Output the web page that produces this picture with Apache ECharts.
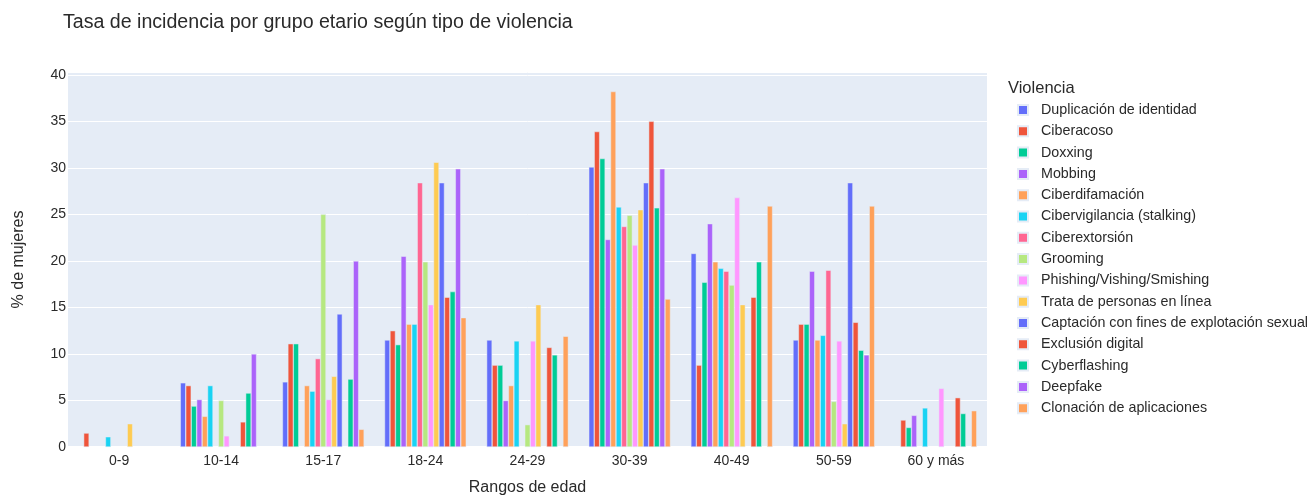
<!DOCTYPE html>
<html>
<head>
<meta charset="utf-8">
<script src="https://cdn.jsdelivr.net/npm/echarts@6/dist/echarts.min.js"></script>
<style>
html,body{margin:0;padding:0;background:#fff;}
#chart{width:1311px;height:496px;}
</style>
</head>
<body>
<div id="chart"></div>
<script>
const categories = ['0-9','10-14','15-17','18-24','24-29','30-39','40-49','50-59','60 y más'];
const seriesNames = ['Duplicación de identidad','Ciberacoso','Doxxing','Mobbing','Ciberdifamación','Cibervigilancia (stalking)','Ciberextorsión','Grooming','Phishing/Vishing/Smishing','Trata de personas en línea','Captación con fines de explotación sexual','Exclusión digital','Cyberflashing','Deepfake','Clonación de aplicaciones'];
const colors = ['#636EFA','#EF553B','#00CC96','#AB63FA','#FFA15A','#19D3F3','#FF6692','#B6E880','#FF97FF','#FECB52','#636EFA','#EF553B','#00CC96','#AB63FA','#FFA15A'];

const duplicacion    = [null, 6.9, 7.0, 11.5, 11.5, 30.1, 20.8, 11.5, null];
const ciberacoso     = [1.5, 6.6, 11.1, 12.5, 8.8, 33.9, 8.8, 13.2, 2.9];
const doxxing        = [null, 4.4, 11.1, 11.0, 8.8, 31.0, 17.7, 13.2, 2.1];
const mobbing        = [null, 5.1, null, 20.5, 5.0, 22.3, 24.0, 18.9, 3.4];
const ciberdifamacion= [null, 3.3, 6.6, 13.2, 6.6, 38.2, 19.9, 11.5, null];
const cibervigilancia= [1.1, 6.6, 6.0, 13.2, 11.4, 25.8, 19.2, 12.0, 4.2];
const ciberextorsion = [null, null, 9.5, 28.4, null, 23.7, 18.9, 19.0, null];
const grooming       = [null, 5.0, 25.0, 19.9, 2.4, 24.9, 17.4, 4.9, null];
const phishing       = [null, 1.2, 5.1, 15.3, 11.4, 21.7, 26.8, 11.4, 6.3];
const trata          = [2.5, null, 7.6, 30.6, 15.3, 25.5, 15.3, 2.5, null];
const captacion      = [null, null, 14.3, 28.4, null, 28.4, null, 28.4, null];
const exclusion      = [null, 2.7, null, 16.1, 10.7, 35.0, 16.1, 13.4, 5.3];
const cyberflashing  = [null, 5.8, 7.3, 16.7, 9.9, 25.7, 19.9, 10.4, 3.6];
const deepfake       = [null, 10.0, 20.0, 29.9, null, 29.9, null, 9.9, null];
const clonacion      = [null, null, 1.9, 13.9, 11.9, 15.9, 25.9, 25.9, 3.9];

const seriesData = [duplicacion, ciberacoso, doxxing, mobbing, ciberdifamacion, cibervigilancia, ciberextorsion, grooming, phishing, trata, captacion, exclusion, cyberflashing, deepfake, clonacion];

const FONT = '"Liberation Sans", Arial, sans-serif';
const TXT = '#2a2a2a';

const chart = echarts.init(document.getElementById('chart'), null, {renderer:'canvas'});
chart.setOption({
  animation: false,
  backgroundColor: '#fff',
  textStyle: {fontFamily: FONT},
  title: [
    {text: 'Tasa de incidencia por grupo etario según tipo de violencia', left: 58, top: 8,
     textStyle: {fontFamily: FONT, fontSize: 19.6, fontWeight: 'normal', color: TXT}},
    {text: 'Violencia', left: 1003, top: 75,
     textStyle: {fontFamily: FONT, fontSize: 16.5, fontWeight: 'normal', color: TXT}}
  ],
  legend: {
    orient: 'vertical', left: 1012, top: 98,
    icon: 'rect', itemWidth: 10, itemHeight: 10, itemGap: 7.3,
    data: seriesNames,
    textStyle: {fontFamily: FONT, fontSize: 14.3, color: TXT, lineHeight: 14, padding: [0,0,0,8]}
  },
  grid: {left: 68, right: 324, top: 72, bottom: 49, show: true, backgroundColor: '#E5ECF6', borderWidth: 0, outerBoundsMode: 'none', containLabel: false},
  xAxis: {
    type: 'category', data: categories,
    name: 'Rangos de edad', nameLocation: 'middle', nameGap: 33,
    nameTextStyle: {fontFamily: FONT, fontSize: 16, color: TXT},
    axisLine: {show: true, lineStyle: {color: '#fff', width: 2}},
    axisTick: {show: false},
    axisLabel: {fontFamily: FONT, fontSize: 14, color: TXT, margin: 7}
  },
  yAxis: {
    type: 'value', min: 0, max: 40.3, interval: 5,
    name: '% de mujeres', nameLocation: 'middle', nameGap: 41, nameRotate: 90,
    nameTextStyle: {fontFamily: FONT, fontSize: 16, color: TXT},
    axisLine: {show: false}, axisTick: {show: false},
    axisLabel: {fontFamily: FONT, fontSize: 14, color: TXT, margin: 2, showMaxLabel: false},
    splitLine: {lineStyle: {color: '#fff', width: 1}}
  },
  series: seriesNames.map((name, i) => ({
    name: name, type: 'bar', data: seriesData[i],
    barGap: '0%', barCategoryGap: '20%',
    itemStyle: {color: colors[i], borderColor: '#E5ECF6', borderWidth: 0.5}
  }))
});
</script>
</body>
</html>
